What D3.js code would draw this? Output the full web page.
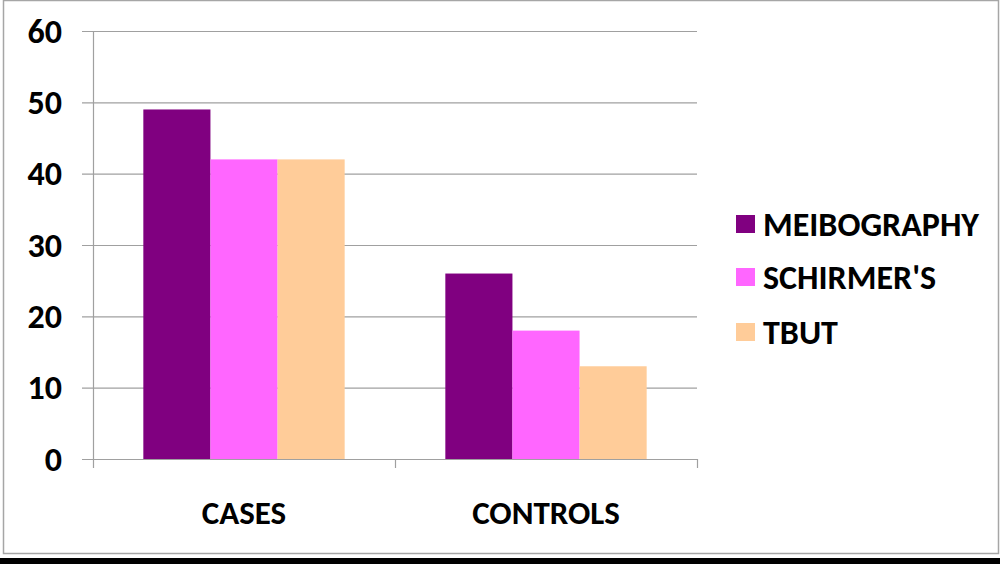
<!DOCTYPE html>
<html><head><meta charset="utf-8">
<script src="https://cdn.jsdelivr.net/npm/d3@7"></script>
<style>
html,body{margin:0;padding:0;background:#fff;}
svg{display:block;}
text{font-family:Carlito,Calibri,Lato,"Liberation Sans",sans-serif;font-weight:bold;fill:#000;}
</style></head>
<body>
<svg id="chart" width="1000" height="564"></svg>
<script>
const categories = ["CASES", "CONTROLS"];
const seriesNames = ["MEIBOGRAPHY", "SCHIRMER'S", "TBUT"];
const meibography = [49, 26];
const schirmers = [42, 18];
const tbut = [42, 13];
const yTicks = [0, 10, 20, 30, 40, 50, 60];
const colors = ["#800080", "#FF66FF", "#FFCC99"];

const seriesValues = [meibography, schirmers, tbut];
const svg = d3.select("#chart");

// frame
svg.append("rect").attr("x", 3.5).attr("y", 0.5).attr("width", 995).attr("height", 553)
  .attr("fill", "none").attr("stroke", "#a6a6a6").attr("stroke-width", 1.5);
svg.append("rect").attr("x", 0).attr("y", 558).attr("width", 1000).attr("height", 6).attr("fill", "#000");

const x0 = 93, x1 = 697, yTop = 31, yBot = 459;
const x = d3.scaleBand().domain(categories).range([x0, x1]).paddingInner(0).paddingOuter(0);
const xs = d3.scaleBand().domain(seriesNames).range([0, x.bandwidth()]).paddingInner(0).paddingOuter(0.75);
const y = d3.scaleLinear().domain([0, 60]).range([yBot, yTop]);

// gridlines
svg.append("g").selectAll("line").data(yTicks).join("line")
  .attr("x1", x0 - 11).attr("x2", x1)
  .attr("y1", d => y(d) + 0.5).attr("y2", d => y(d) + 0.5)
  .attr("stroke", "#a0a0a0").attr("stroke-width", 1.2);

// y axis line
svg.append("line").attr("x1", x0 + 0.5).attr("x2", x0 + 0.5).attr("y1", yTop).attr("y2", yBot + 9)
  .attr("stroke", "#a0a0a0").attr("stroke-width", 1.2);

// category ticks
const catBounds = categories.map(c => x(c) + x.bandwidth());
svg.append("g").selectAll("line").data(catBounds).join("line")
  .attr("x1", d => d + 0.5).attr("x2", d => d + 0.5).attr("y1", yBot).attr("y2", yBot + 9)
  .attr("stroke", "#a0a0a0").attr("stroke-width", 1.2);

// bars
const g = svg.append("g");
categories.forEach((c, ci) => {
  seriesNames.forEach((s, si) => {
    const v = seriesValues[si][ci];
    g.append("rect")
      .attr("x", x(c) + xs(s))
      .attr("width", xs.bandwidth())
      .attr("y", y(v))
      .attr("height", y(0) - y(v))
      .attr("fill", colors[si]);
  });
});

// y tick labels
svg.append("g").selectAll("text").data(yTicks).join("text")
  .attr("x", 62).attr("y", d => y(d))
  .attr("dy", "0.34em")
  .attr("text-anchor", "end")
  .attr("font-size", 34)
  .text(d => d);

// category labels
svg.append("g").selectAll("text").data(categories).join("text")
  .attr("x", d => x(d) + x.bandwidth() / 2).attr("y", 513)
  .attr("dy", "0.34em")
  .attr("text-anchor", "middle")
  .attr("font-size", 33)
  .text(d => d);

// legend
const legendY = [224, 277, 332];
const lg = svg.append("g");
seriesNames.forEach((s, i) => {
  lg.append("rect").attr("x", 736).attr("y", legendY[i] - 9).attr("width", 19).attr("height", 18).attr("fill", colors[i]);
  lg.append("text").attr("x", 763).attr("y", legendY[i]).attr("dy", "0.34em")
    .attr("font-size", 34).text(s);
});
</script>
</body></html>
